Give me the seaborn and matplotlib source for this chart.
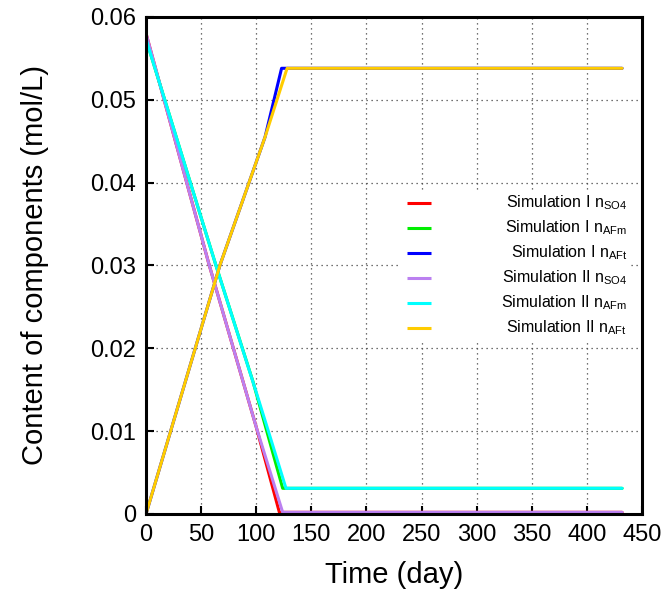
import numpy as np
import pandas as pd
import matplotlib
matplotlib.use("Agg")
import matplotlib.pyplot as plt
from matplotlib.patches import Rectangle
import seaborn as sns

# ---------------- data ----------------
series_names = [
    "Simulation I n$_\\mathregular{SO4}$",
    "Simulation I n$_\\mathregular{AFm}$",
    "Simulation I n$_\\mathregular{AFt}$",
    "Simulation II n$_\\mathregular{SO4}$",
    "Simulation II n$_\\mathregular{AFm}$",
    "Simulation II n$_\\mathregular{AFt}$",
]
series_colors = ["#ff0000", "#00ee00", "#0000ff", "#bb80f0", "#00ffff", "#ffcc00"]

sim1_so4_t = [0, 57, 100, 121, 432]
sim1_so4_v = [0.0580, 0.0302, 0.0105, 0.0002, 0.0002]

sim1_afm_t = [0, 63, 97, 124, 432]
sim1_afm_v = [0.0573, 0.0302, 0.0160, 0.0031, 0.0031]

sim1_aft_t = [0, 67, 108, 123, 432]
sim1_aft_v = [0.0, 0.0300, 0.0455, 0.0538, 0.0538]

sim2_so4_t = [0, 57, 100, 124, 432]
sim2_so4_v = [0.0580, 0.0302, 0.0105, 0.0002, 0.0002]

sim2_afm_t = [0, 63, 100, 111, 127, 432]
sim2_afm_v = [0.0573, 0.0302, 0.0147, 0.0100, 0.0031, 0.0031]

sim2_aft_t = [0, 67, 108, 128, 432]
sim2_aft_v = [0.0, 0.0300, 0.0455, 0.0538, 0.0538]

x_ticks = [0, 50, 100, 150, 200, 250, 300, 350, 400, 450]
y_ticks = [0, 0.01, 0.02, 0.03, 0.04, 0.05, 0.06]
y_tick_labels = ["0", "0.01", "0.02", "0.03", "0.04", "0.05", "0.06"]

all_t = [sim1_so4_t, sim1_afm_t, sim1_aft_t, sim2_so4_t, sim2_afm_t, sim2_aft_t]
all_v = [sim1_so4_v, sim1_afm_v, sim1_aft_v, sim2_so4_v, sim2_afm_v, sim2_aft_v]

frames = []
for name, t, v in zip(series_names, all_t, all_v):
    frames.append(pd.DataFrame({"Time": t, "Value": v, "Series": name}))
df = pd.concat(frames, ignore_index=True)

# ---------------- styling ----------------
sns.set_theme(style="white")
plt.rcParams["font.family"] = ["Liberation Sans", "DejaVu Sans"]
plt.rcParams["mathtext.default"] = "regular"

fig = plt.figure(figsize=(6.68, 5.96), dpi=100)
ax = fig.add_axes([0.2186, 0.1376, 0.7424, 0.834])

palette = dict(zip(series_names, series_colors))
sns.lineplot(data=df, x="Time", y="Value", hue="Series", hue_order=series_names,
             palette=palette, estimator=None, sort=False, linewidth=2.2,
             legend=False, ax=ax, zorder=3)

ax.set_xlim(0, 450)
ax.set_ylim(0, 0.06)
ax.set_xticks(x_ticks)
ax.set_xticklabels([str(x) for x in x_ticks])
ax.set_yticks(y_ticks)
ax.set_yticklabels(y_tick_labels)

ax.grid(True, linestyle=(0, (1, 3)), color="#444444", linewidth=0.9)
ax.set_axisbelow(True)

for s in ax.spines.values():
    s.set_color("black")
    s.set_linewidth(2.2)
    s.set_zorder(5)

ax.tick_params(axis="both", direction="in", length=6, width=1.5,
               color="black", labelsize=17, labelcolor="black",
               top=False, right=False, bottom=True, left=True)
ax.tick_params(axis="x", pad=7)
ax.tick_params(axis="y", pad=7)

ax.set_xlabel("Time (day)", fontsize=21, labelpad=11, color="black")
ax.set_ylabel("Content of components (mol/L)", fontsize=21, labelpad=30, color="black")

# ---------------- legend (opaque box, lines left, text right-aligned) ----------------
ax.add_patch(Rectangle((0.508, 0.346), 0.466, 0.306, transform=ax.transAxes,
                       facecolor="white", edgecolor="none", zorder=2))
row_y_px = [203, 228, 253, 278, 303, 328]
for name, col, py in zip(series_names, series_colors, row_y_px):
    yy = (514 - py) / 497.0
    ax.plot([0.526, 0.575], [yy, yy], transform=ax.transAxes, color=col,
            linewidth=2.2, zorder=4, solid_capstyle="butt")
    ax.text(0.970, yy, name, transform=ax.transAxes, ha="right", va="center",
            fontsize=11.5, color="black", zorder=4)

fig.savefig("out.png", dpi=100)
